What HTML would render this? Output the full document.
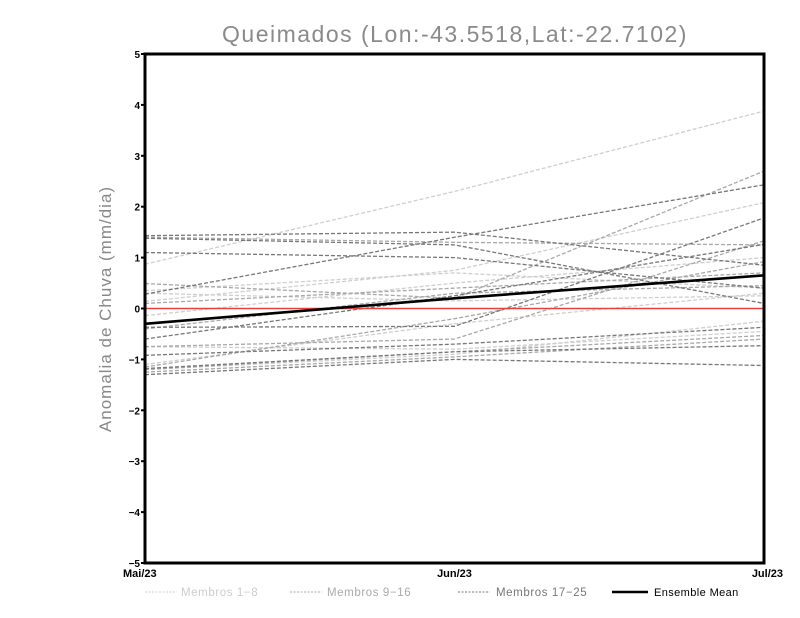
<!DOCTYPE html>
<html><head><meta charset="utf-8"><style>
html,body{margin:0;padding:0;background:#fff;}
svg{display:block;font-family:"Liberation Sans",sans-serif;}
</style></head><body>
<svg id="chart" width="800" height="618" viewBox="0 0 800 618">
<text x="455" y="42" text-anchor="middle" font-size="23" fill="#8a8a8a" letter-spacing="1.5">Queimados (Lon:-43.5518,Lat:-22.7102)</text>
<text transform="translate(111,309) rotate(-90)" text-anchor="middle" font-size="17" fill="#888" letter-spacing="1">Anomalia de Chuva (mm/dia)</text>
<g id="marks"></g>
<g id="axes"></g>
<g id="legend">
<line x1="145" y1="592" x2="177" y2="592" stroke="#ccc" stroke-dasharray="2,1.5"/>
<text x="181" y="596" font-size="11.5" fill="#ccc" letter-spacing="0.6">Membros 1−8</text>
<line x1="290" y1="592" x2="322" y2="592" stroke="#aaa" stroke-dasharray="2,1.5"/>
<text x="327" y="596" font-size="11.5" fill="#aaa" letter-spacing="0.6">Membros 9−16</text>
<line x1="458" y1="592" x2="490" y2="592" stroke="#777" stroke-dasharray="2,1.5"/>
<text x="496" y="596" font-size="11.5" fill="#777" letter-spacing="0.6">Membros 17−25</text>
<line x1="612" y1="592" x2="648" y2="592" stroke="#000" stroke-width="2.5"/>
<text x="654" y="596" font-size="11" fill="#000" letter-spacing="0.4">Ensemble Mean</text>
</g>
</svg>
<script>
const months = ["Mai/23","Jun/23","Jul/23"];
const yTicks = [-5,-4,-3,-2,-1,0,1,2,3,4,5];
const membersLight = [[0.87,2.3,3.88],[0.14,0.75,2.08],[-0.14,0.5,1.0],[0.35,0.7,0.4],[-1.1,-0.3,0.3],[-1.2,-0.9,-0.25],[-0.75,-0.8,-0.45],[0.3,0.15,0.25]];
const membersMedium = [[0.49,0.2,2.7],[-0.75,-0.6,1.33],[-1.2,-0.85,-0.53],[-1.15,-0.2,0.92],[1.4,1.3,1.25],[-0.4,0.3,0.45],[-1.25,-0.95,-0.6],[0.1,0.4,0.7]];
const membersDark = [[1.43,1.5,0.85],[1.38,1.25,0.1],[1.1,1.0,0.4],[0.28,1.4,2.43],[-0.37,-0.35,1.78],[-0.6,0.25,1.26],[-0.92,-0.7,-0.37],[-1.3,-1.0,-1.12],[-1.18,-0.85,-0.73]];
const ensembleMean = [-0.3,0.2,0.65];

const NS="http://www.w3.org/2000/svg";
const L=145,R=764,T=54,B=563;
const x=i=>L+(R-L)*i/(months.length-1);
const y=v=>B-(v+5)/10*(B-T);
const marks=document.getElementById('marks');
const axes=document.getElementById('axes');
function pl(vals,color,w,dash,name){
  const p=document.createElementNS(NS,'polyline');
  p.setAttribute('points',vals.map((v,i)=>x(i)+','+y(v)).join(' '));
  p.setAttribute('fill','none');p.setAttribute('stroke',color);p.setAttribute('stroke-width',w);
  if(dash)p.setAttribute('stroke-dasharray',dash);
  
  
  marks.appendChild(p);
}
membersLight.forEach((m,i)=>pl(m,'#cfcfcf',1.3,'4,2','member-light-'+(i+1)));
membersMedium.forEach((m,i)=>pl(m,'#a8a8a8',1.3,'4,2','member-medium-'+(i+9)));
membersDark.forEach((m,i)=>pl(m,'#777',1.3,'4,2','member-dark-'+(i+17)));
const z=document.createElementNS(NS,'line');
z.setAttribute('x1',L);z.setAttribute('x2',R);z.setAttribute('y1',y(0));z.setAttribute('y2',y(0));
z.setAttribute('stroke','#e84040');z.setAttribute('stroke-width',1.5);


marks.appendChild(z);
pl(ensembleMean,'#000',2.6,null,'ensemble-mean-line');
const fr=document.createElementNS(NS,'rect');
fr.setAttribute('x',L);fr.setAttribute('y',T);fr.setAttribute('width',R-L);fr.setAttribute('height',B-T);
fr.setAttribute('fill','none');fr.setAttribute('stroke','#000');fr.setAttribute('stroke-width',3);


axes.appendChild(fr);
yTicks.forEach(v=>{
  const t=document.createElementNS(NS,'line');
  t.setAttribute('x1',L-4);t.setAttribute('x2',L);t.setAttribute('y1',y(v));t.setAttribute('y2',y(v));
  t.setAttribute('stroke','#000');t.setAttribute('stroke-width',2);
  
  
  axes.appendChild(t);
  const s=document.createElementNS(NS,'text');
  s.setAttribute('x',L-5);s.setAttribute('y',y(v)+4);s.setAttribute('text-anchor','end');
  s.setAttribute('font-size','10');s.setAttribute('font-weight','bold');
  s.textContent=(v<0?'−':'')+Math.abs(v);
  
  
  axes.appendChild(s);
});
months.forEach((m,i)=>{
  const s=document.createElementNS(NS,'text');
  s.setAttribute('y',B+14);
  if(i==0){s.setAttribute('x',x(i)-22);s.setAttribute('text-anchor','start');}
  else if(i==months.length-1){s.setAttribute('x',x(i)+19);s.setAttribute('text-anchor','end');}
  else{s.setAttribute('x',x(i));s.setAttribute('text-anchor','middle');}
  s.setAttribute('font-size','11');s.setAttribute('font-weight','bold');
  s.textContent=m;
  
  
  axes.appendChild(s);
});
</script>
</body></html>
